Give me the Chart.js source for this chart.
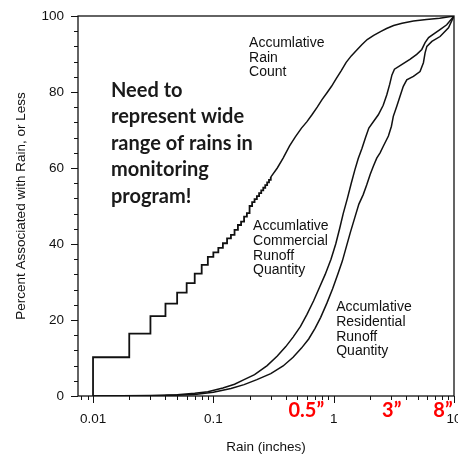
<!DOCTYPE html>
<html>
<head>
<meta charset="utf-8">
<script src="https://cdn.jsdelivr.net/npm/chart.js@4.4.0/dist/chart.umd.min.js"></script>
<style>
  body { margin: 0; background: #fff; }
</style>
</head>
<body>
<canvas id="myCanvas" width="458" height="455"></canvas>
<script>
// rain counts recorded in 0.01 inch steps (drawn as a staircase)
var rainStepX = [0.01, 0.01, 0.02, 0.03, 0.04, 0.05, 0.06, 0.07, 0.08, 0.09, 0.10,
                 0.11, 0.12, 0.13, 0.14, 0.15, 0.16, 0.17, 0.18, 0.19, 0.20,
                 0.21, 0.22, 0.23, 0.24, 0.25, 0.26, 0.27, 0.28, 0.29, 0.30];
var rainStepY = [0, 10.2, 16.4, 21.0, 24.3, 27.2, 29.7, 32.2, 34.5, 36.6, 37.8,
                 39.0, 40.2, 41.5, 42.4, 43.7, 45.0, 45.9, 47.2, 48.1, 50.0,
                 51.0, 51.8, 52.6, 53.4, 54.1, 54.8, 55.5, 56.2, 56.9, 57.6];

// rain counts above 0.3 inch
var rainX = [0.30, 0.34, 0.38, 0.43, 0.48, 0.54, 0.60, 0.66, 0.73, 0.80, 0.88, 0.96,
             1.05, 1.15, 1.27, 1.40, 1.55, 1.72, 1.90, 2.15, 2.45, 2.75, 3.15, 3.70,
             4.60, 5.90, 7.60, 10];
var rainY = [57.6, 60.0, 62.6, 65.8, 68.2, 70.5, 72.2, 74.0, 76.0, 78.0, 79.8, 81.5,
             83.5, 85.5, 87.8, 89.5, 91.0, 92.5, 93.8, 94.9, 95.9, 96.7, 97.5, 98.1,
             98.7, 99.1, 99.4, 100];

var commX = [0.01, 0.03, 0.05, 0.07, 0.09, 0.12, 0.15, 0.18, 0.22, 0.28, 0.34, 0.40,
             0.46, 0.53, 0.60, 0.68, 0.76, 0.85, 0.95, 1.04, 1.12, 1.20, 1.30, 1.40,
             1.50, 1.60, 1.72, 1.84, 1.96, 2.15, 2.35, 2.58, 2.76, 2.92, 3.05, 3.20,
             3.70, 4.30, 4.90, 5.40, 5.75, 6.15, 6.80, 7.70, 8.70, 10];
var commY = [0, 0.1, 0.3, 0.7, 1.1, 2.1, 3.1, 4.3, 5.6, 8.0, 10.5, 13.0,
             15.5, 18.3, 21.5, 25.0, 28.5, 32.0, 36.0, 40.0, 44.0, 48.0, 52.0, 56.0,
             59.5, 62.5, 65.2, 68.0, 70.5, 72.3, 74.0, 76.5, 79.2, 82.0, 84.5, 86.0,
             87.3, 88.6, 89.9, 91.2, 93.0, 94.3, 95.3, 96.5, 97.7, 100];

var resX = [0.01, 0.04, 0.07, 0.10, 0.14, 0.18, 0.23, 0.30, 0.38, 0.46, 0.54, 0.62,
            0.70, 0.78, 0.88, 0.98, 1.08, 1.18, 1.28, 1.38, 1.50, 1.62, 1.76, 1.88,
            2.01, 2.14, 2.28, 2.43, 2.59, 2.85, 3.02, 3.13, 3.34, 3.56, 3.79, 4.05,
            4.60, 5.22, 5.57, 5.75, 5.95, 6.55, 7.66, 9.00, 10];
var resY = [0, 0.1, 0.4, 1.0, 2.0, 3.0, 4.3, 5.9, 7.9, 10.2, 12.6, 15.0,
            17.8, 20.7, 24.5, 28.2, 32.0, 35.5, 39.5, 43.2, 47.0, 50.5, 53.0, 55.5,
            58.3, 60.5, 62.6, 64.0, 65.8, 68.4, 71.0, 73.6, 76.2, 78.9, 81.5, 83.2,
            84.1, 85.4, 87.7, 90.3, 92.0, 93.3, 94.6, 96.9, 100];

var xTickValues = [0.01, 0.1, 1, 10];
var yTickValues = [0, 20, 40, 60, 80, 100];

// rain depths called out under the axis
var markRains = [0.5, 3, 8];
var markTexts = ['0.5\u201D', '3\u201D', '8\u201D'];

// curve notes: [rain, percent, lines]
var notes = [
  [0.198, 92.9, ['Accumlative', 'Rain', 'Count']],
  [0.214, 44.7, ['Accumlative', 'Commercial', 'Runoff', 'Quantity']],
  [1.05, 23.4, ['Accumlative', 'Residential', 'Runoff', 'Quantity']]
];
var bigNote = [0.0141, 80.5, ['Need to', 'represent wide', 'range of rains in', 'monitoring', 'program!']];

function pts(xs, ys) {
  var out = [];
  for (var i = 0; i < xs.length; i++) out.push({x: xs[i], y: ys[i]});
  return out;
}

var decor = {
  id: 'decor',
  afterDraw: function (chart) {
    var ctx = chart.ctx, a = chart.chartArea;
    var xs = chart.scales.x, ys = chart.scales.y;
    ctx.save();
    ctx.strokeStyle = '#111';
    ctx.lineWidth = 1.3;
    ctx.strokeRect(a.left, a.top, a.right - a.left, a.bottom - a.top);

    // log ticks on the rain axis
    ctx.lineWidth = 1;
    ctx.beginPath();
    for (var e = -3; e <= 0; e++) {
      for (var s = 1; s <= 9; s++) {
        var v = s * Math.pow(10, e);
        if (v < xs.min || v > xs.max) continue;
        var px = Math.round(xs.getPixelForValue(v)) + 0.5;
        ctx.moveTo(px, a.bottom);
        ctx.lineTo(px, a.bottom + (s === 1 ? 7 : 4));
      }
    }
    var p10 = Math.round(xs.getPixelForValue(10)) + 0.5;
    ctx.moveTo(p10, a.bottom);
    ctx.lineTo(p10, a.bottom + 7);

    // percent ticks every 4
    for (var t = 0; t <= 100; t += 4) {
      var py = Math.round(ys.getPixelForValue(t)) + 0.5;
      ctx.moveTo(a.left, py);
      ctx.lineTo(a.left - 4, py);
    }
    for (var k = 0; k < yTickValues.length; k++) {
      var pm = Math.round(ys.getPixelForValue(yTickValues[k])) + 0.5;
      ctx.moveTo(a.left, pm);
      ctx.lineTo(a.left - 7, pm);
    }
    ctx.stroke();

    // curve notes
    ctx.fillStyle = '#111';
    ctx.font = '14px "Liberation Sans", Arial, sans-serif';
    ctx.textAlign = 'left';
    ctx.textBaseline = 'middle';
    notes.forEach(function (n) {
      var nx = xs.getPixelForValue(n[0]), ny = ys.getPixelForValue(n[1]);
      n[2].forEach(function (line, i) { ctx.fillText(line, nx, ny + i * 14.8); });
    });

    // message
    ctx.fillStyle = '#1a1a1a';
    ctx.font = 'bold 20px Lato, "Open Sans", sans-serif';
    var bx = xs.getPixelForValue(bigNote[0]), by = ys.getPixelForValue(bigNote[1]);
    bigNote[2].forEach(function (line, i) { ctx.fillText(line, bx, by + i * 26.5); });

    // highlighted depths
    ctx.fillStyle = '#ff0000';
    ctx.font = 'bold 20px Lato, "Open Sans", sans-serif';
    for (var m = 0; m < markRains.length; m++) {
      ctx.fillText(markTexts[m], xs.getPixelForValue(markRains[m]) - 9, a.bottom + 15);
    }
    ctx.restore();
  }
};

var line = {borderColor: '#111', borderWidth: 1.5, pointRadius: 0, tension: 0, fill: false};

new Chart(document.getElementById('myCanvas').getContext('2d'), {
  type: 'line',
  data: {
    datasets: [
      Object.assign({label: 'Accumlative Rain Count', data: pts(rainStepX, rainStepY), stepped: 'before', borderWidth: 1.8}, line, {borderWidth: 1.8}),
      Object.assign({label: 'Accumlative Rain Count', data: pts(rainX, rainY)}, line),
      Object.assign({label: 'Accumlative Commercial Runoff Quantity', data: pts(commX, commY)}, line),
      Object.assign({label: 'Accumlative Residential Runoff Quantity', data: pts(resX, resY)}, line)
    ]
  },
  options: {
    responsive: false,
    animation: false,
    layout: {padding: {top: 16, right: 4, left: 0, bottom: 0}},
    plugins: {legend: {display: false}, tooltip: {enabled: false}},
    scales: {
      x: {
        type: 'logarithmic',
        min: 0.0075,
        max: 10,
        grid: {display: false, drawTicks: false},
        border: {display: false},
        afterBuildTicks: function (s) { s.ticks = xTickValues.map(function (v) { return {value: v}; }); },
        afterFit: function (s) { s.height = 59; s.paddingLeft = 0; s.paddingRight = 0; },
        ticks: {
          autoSkip: false,
          maxRotation: 0,
          padding: 15,
          color: '#111',
          font: {family: '"Liberation Sans", Arial, sans-serif', size: 13.5},
          callback: function (v) { return String(v); }
        },
        title: {
          display: true,
          text: 'Rain (inches)',
          color: '#111',
          padding: {top: 0, bottom: 0},
          font: {family: '"Liberation Sans", Arial, sans-serif', size: 13.5}
        }
      },
      y: {
        min: 0,
        max: 100,
        grid: {display: false, drawTicks: false},
        border: {display: false},
        afterBuildTicks: function (s) { s.ticks = yTickValues.map(function (v) { return {value: v}; }); },
        afterFit: function (s) { s.width = 78; s.paddingTop = 0; s.paddingBottom = 0; },
        ticks: {
          padding: 14,
          color: '#111',
          font: {family: '"Liberation Sans", Arial, sans-serif', size: 13.5}
        },
        title: {
          display: true,
          text: 'Percent Associated with Rain, or Less',
          color: '#111',
          padding: {top: 13, bottom: 0},
          font: {family: '"Liberation Sans", Arial, sans-serif', size: 13.5}
        }
      }
    }
  },
  plugins: [decor]
});
</script>
</body>
</html>
